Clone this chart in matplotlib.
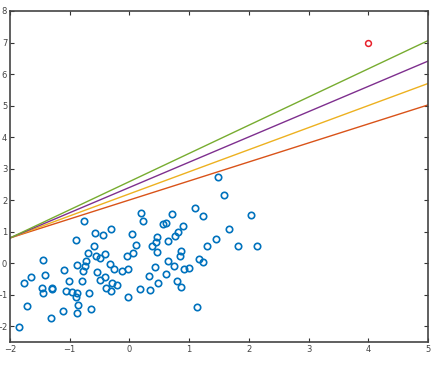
import numpy as np
import matplotlib.pyplot as plt

# scattered sample points
px = [1.48, 1.59, 1.10, 1.24, 2.04, 1.67, 1.45, 1.30, 1.81, 2.13,
      0.20, 0.22, 0.71, 0.56, 0.61, 0.90, 0.82, 0.77, 0.47, 0.64,
      0.44, 0.38, 0.46, 0.87, 0.85, 0.05, 0.11, -0.31, 0.06, -0.04,
      -0.41, -0.33, -0.26, -0.12, -0.02, 0.42, 0.65, 0.75, 0.62, 0.33,
      0.91, 1.00, 1.17, 1.24, 0.48, 0.80, 0.87, 0.34, 0.17, -0.02,
      1.13, -0.41, -0.30, -0.21, -0.39, -0.31,
      -0.76, -0.58, -0.45, -0.90, -0.59, -0.69, -0.56, -0.49, -0.72, -0.74,
      -0.78, -0.87, -0.80, -0.54, -0.49, -0.67, -1.44, -1.09, -1.41, -1.01,
      -1.65, -1.76, -1.47, -1.30, -1.29, -1.44, -1.07, -0.97, -0.88, -0.90,
      -0.86, -1.72, -1.11, -0.87, -0.64, -1.32, -1.85]
py = [2.75, 2.17, 1.75, 1.50, 1.53, 1.08, 0.77, 0.53, 0.56, 0.53,
      1.59, 1.35, 1.56, 1.24, 1.29, 1.17, 0.99, 0.86, 0.83, 0.71,
      0.66, 0.53, 0.34, 0.40, 0.24, 0.94, 0.59, 1.08, 0.32, 0.23,
      0.28, -0.04, -0.17, -0.25, -0.19, -0.12, 0.06, -0.09, -0.34, -0.42,
      -0.18, -0.15, 0.13, 0.03, -0.63, -0.55, -0.76, -0.85, -0.82, -1.07,
      -1.40, -0.43, -0.64, -0.70, -0.78, -0.89,
      1.34, 0.95, 0.90, 0.73, 0.56, 0.31, 0.24, 0.18, 0.07, -0.09,
      -0.26, -0.05, -0.56, -0.29, -0.52, -0.94, 0.09, -0.22, -0.36, -0.58,
      -0.45, -0.63, -0.80, -0.78, -0.81, -0.96, -0.88, -0.91, -0.93, -1.07,
      -1.34, -1.36, -1.52, -1.59, -1.46, -1.73, -2.03]

# the single red point
red_x = [4]
red_y = [7]

# straight lines, all starting at x=-2
line_x = [-2, 5]
line_start = [0.8, 0.8, 0.8, 0.8]
line_end = [5.02, 5.70, 6.41, 7.06]
line_cols = ['#D95319', '#EDB120', '#7E2F8E', '#77AC30']

fig = plt.figure(figsize=(4.36, 3.66), dpi=100)
ax = fig.add_axes([10/436, 1-342/366, 418/436, 331/366])

ax.plot(px, py, 'o', mfc='none', mec='#0072BD', ms=4.6, mew=1.2)
for s, e, c in zip(line_start, line_end, line_cols):
    ax.plot(line_x, [s, e], color=c, lw=1.0)
ax.plot(red_x, red_y, 'o', mfc='none', mec='#E8202A', ms=4.2, mew=1.1)

ax.set_xlim(-2, 5)
ax.set_ylim(-2.5, 8)
ax.set_xticks(range(-2, 6))
ax.set_yticks(range(-2, 9))
ax.tick_params(direction='in', top=True, right=True, length=3, width=0.8,
               labelsize=6, labelcolor='#444444', color='#333333', pad=2)
for sp in ax.spines.values():
    sp.set_linewidth(1.2)
    sp.set_color('#444444')

fig.savefig('out.png', dpi=100)
